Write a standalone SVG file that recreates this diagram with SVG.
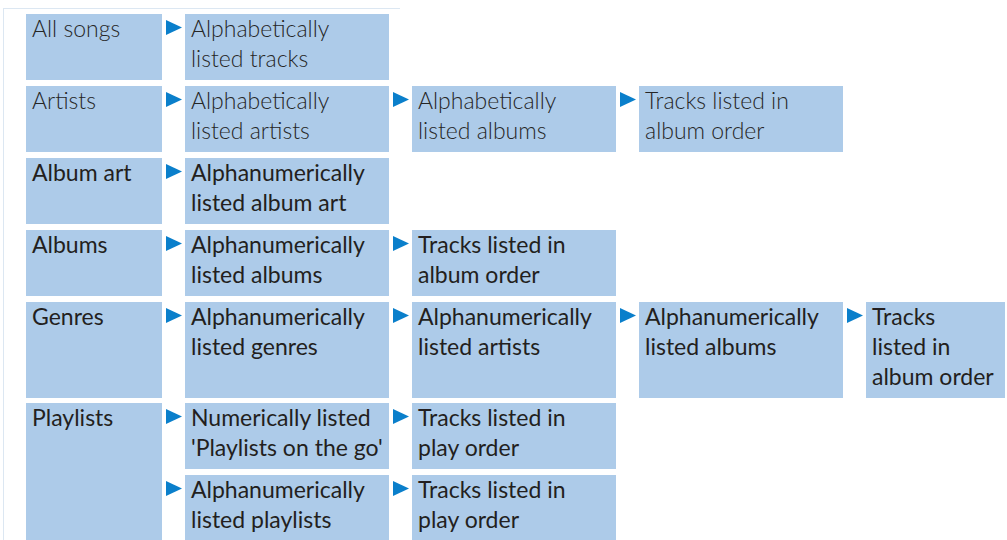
<svg xmlns="http://www.w3.org/2000/svg" xmlns:xlink="http://www.w3.org/1999/xlink" width="1007" height="540" viewBox="0 0 1007 540">
<style>
.bg{fill:#ffffff}
.frame{stroke:#dce7f2;stroke-width:1;fill:none}
.box{fill:#adcbe9}
.t{font-family:Lato,"Open Sans","Liberation Sans",sans-serif;font-size:23px;fill:#231f20}
.lt{font-weight:300;fill:#262626}
.arr{fill:#0a7fcb}
</style>
<defs>
<polygon id="arr" points="0,0 0,15 16,7.5"/>
</defs>
<rect class="bg" x="0" y="0" width="1007" height="540"/>
<g id="frame">
<line class="frame" x1="3" y1="8.5" x2="400" y2="8.5"/>
<line class="frame" x1="3.5" y1="8" x2="3.5" y2="540"/>
</g>
<g id="connectors" class="arr">
<use xlink:href="#arr" x="166" y="20"/>
<use xlink:href="#arr" x="166" y="92"/>
<use xlink:href="#arr" x="393" y="92"/>
<use xlink:href="#arr" x="620" y="92"/>
<use xlink:href="#arr" x="166" y="164"/>
<use xlink:href="#arr" x="166" y="236"/>
<use xlink:href="#arr" x="393" y="236"/>
<use xlink:href="#arr" x="166" y="308"/>
<use xlink:href="#arr" x="393" y="308"/>
<use xlink:href="#arr" x="620" y="308"/>
<use xlink:href="#arr" x="847" y="308"/>
<use xlink:href="#arr" x="166" y="409"/>
<use xlink:href="#arr" x="393" y="409"/>
<use xlink:href="#arr" x="166" y="481"/>
<use xlink:href="#arr" x="393" y="481"/>
</g>
<g id="all-songs"><rect class="box" x="26" y="14" width="136" height="66"/><text class="t lt" x="32" y="37">All songs</text></g>
<g id="alpha-tracks"><rect class="box" x="185" y="14" width="204" height="66"/><text class="t lt" x="191" y="37">Alphabetically</text><text class="t lt" x="191" y="67">listed tracks</text></g>
<g id="artists"><rect class="box" x="26" y="86" width="136" height="66"/><text class="t lt" x="32" y="109">Artists</text></g>
<g id="alpha-artists"><rect class="box" x="185" y="86" width="204" height="66"/><text class="t lt" x="191" y="109">Alphabetically</text><text class="t lt" x="191" y="139">listed artists</text></g>
<g id="alpha-albums"><rect class="box" x="412" y="86" width="204" height="66"/><text class="t lt" x="418" y="109">Alphabetically</text><text class="t lt" x="418" y="139">listed albums</text></g>
<g id="artists-tracks"><rect class="box" x="639" y="86" width="204" height="66"/><text class="t lt" x="645" y="109">Tracks listed in</text><text class="t lt" x="645" y="139">album order</text></g>
<g id="album-art"><rect class="box" x="26" y="158" width="136" height="66"/><text class="t" x="32" y="181">Album art</text></g>
<g id="alnum-album-art"><rect class="box" x="185" y="158" width="204" height="66"/><text class="t" x="191" y="181">Alphanumerically</text><text class="t" x="191" y="211">listed album art</text></g>
<g id="albums"><rect class="box" x="26" y="230" width="136" height="66"/><text class="t" x="32" y="253">Albums</text></g>
<g id="alnum-albums"><rect class="box" x="185" y="230" width="204" height="66"/><text class="t" x="191" y="253">Alphanumerically</text><text class="t" x="191" y="283">listed albums</text></g>
<g id="albums-tracks"><rect class="box" x="412" y="230" width="204" height="66"/><text class="t" x="418" y="253">Tracks listed in</text><text class="t" x="418" y="283">album order</text></g>
<g id="genres"><rect class="box" x="26" y="302" width="136" height="96"/><text class="t" x="32" y="325">Genres</text></g>
<g id="alnum-genres"><rect class="box" x="185" y="302" width="204" height="96"/><text class="t" x="191" y="325">Alphanumerically</text><text class="t" x="191" y="355">listed genres</text></g>
<g id="genres-artists"><rect class="box" x="412" y="302" width="204" height="96"/><text class="t" x="418" y="325">Alphanumerically</text><text class="t" x="418" y="355">listed artists</text></g>
<g id="genres-albums"><rect class="box" x="639" y="302" width="204" height="96"/><text class="t" x="645" y="325">Alphanumerically</text><text class="t" x="645" y="355">listed albums</text></g>
<g id="genres-tracks"><rect class="box" x="866" y="302" width="139" height="96"/><text class="t" x="872" y="325">Tracks</text><text class="t" x="872" y="355">listed in</text><text class="t" x="872" y="385">album order</text></g>
<g id="playlists"><rect class="box" x="26" y="403" width="136" height="137"/><text class="t" x="32" y="426">Playlists</text></g>
<g id="num-playlists"><rect class="box" x="185" y="403" width="204" height="66"/><text class="t" x="191" y="426">Numerically listed</text><text class="t" x="191" y="456">'Playlists on the go'</text></g>
<g id="otg-tracks"><rect class="box" x="412" y="403" width="204" height="66"/><text class="t" x="418" y="426">Tracks listed in</text><text class="t" x="418" y="456">play order</text></g>
<g id="alnum-playlists"><rect class="box" x="185" y="475" width="204" height="65"/><text class="t" x="191" y="498">Alphanumerically</text><text class="t" x="191" y="528">listed playlists</text></g>
<g id="playlist-tracks"><rect class="box" x="412" y="475" width="204" height="65"/><text class="t" x="418" y="498">Tracks listed in</text><text class="t" x="418" y="528">play order</text></g>
</svg>
